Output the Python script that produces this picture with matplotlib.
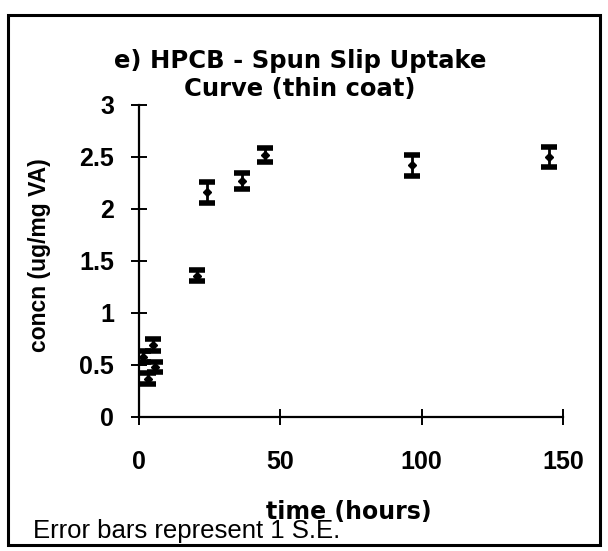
import matplotlib
matplotlib.use("Agg")
import matplotlib.pyplot as plt
from matplotlib.patches import Rectangle

hours = [1.5, 3.2, 5.0, 5.7, 20.5, 24, 36.5, 44.5, 96.5, 145]
concn = [0.58, 0.37, 0.69, 0.48, 1.36, 2.16, 2.27, 2.52, 2.42, 2.50]
se = [0.05, 0.05, 0.06, 0.05, 0.05, 0.10, 0.08, 0.07, 0.10, 0.10]

plt.rcParams['font.family'] = ['Liberation Sans', 'DejaVu Sans']

fig = plt.figure(figsize=(6.08, 5.51), dpi=100)
W, H = 608, 551
ax = fig.add_axes([139 / W, 1 - 417 / H, (563 - 139) / W, (417 - 105) / H])

ax.errorbar(hours, concn, yerr=se, fmt='D', color='black', markersize=4.5,
            ecolor='black', elinewidth=2, capsize=5.5, capthick=4)

ax.set_xlim(0, 150)
ax.set_ylim(0, 3)
ax.set_xticks([0, 50, 100, 150])
ax.set_yticks([0, 0.5, 1, 1.5, 2, 2.5, 3])
ax.set_yticklabels(['0', '0.5', '1', '1.5', '2', '2.5', '3'])
for s in ['top', 'right']:
    ax.spines[s].set_visible(False)
for s in ['left', 'bottom']:
    ax.spines[s].set_linewidth(1.6)
ax.tick_params(direction='inout', length=12, width=1.4, labelsize=18, pad=12)
for lab in ax.get_xticklabels() + ax.get_yticklabels():
    lab.set_fontweight('bold')
ax.xaxis.set_tick_params(pad=18)
ax.patch.set_alpha(0)

bold = dict(family='DejaVu Sans', fontweight='bold')
fig.text(300 / W, 1 - 61 / H, 'e) HPCB - Spun Slip Uptake', ha='center', va='center',
         fontsize=17.5, **bold)
fig.text(300 / W, 1 - 89 / H, 'Curve (thin coat)', ha='center', va='center',
         fontsize=17.5, **bold)
fig.text(40 / W, 1 - 255 / H, 'concn (ug/mg VA)', ha='center', va='center',
         rotation=90, fontsize=16.5, fontweight='bold')
fig.text(349 / W, 1 - 512 / H, 'time (hours)', ha='center', va='center',
         fontsize=17, **bold)
fig.text(33 / W, 1 - 531 / H, 'Error bars represent 1 S.E.', ha='left', va='center',
         fontsize=18.5)

fig.patches.append(Rectangle((8 / W, 1 - 545 / H), 592 / W, 530 / H,
                             transform=fig.transFigure, fill=False,
                             edgecolor='black', linewidth=2.2))

fig.savefig('out.png', dpi=100)
